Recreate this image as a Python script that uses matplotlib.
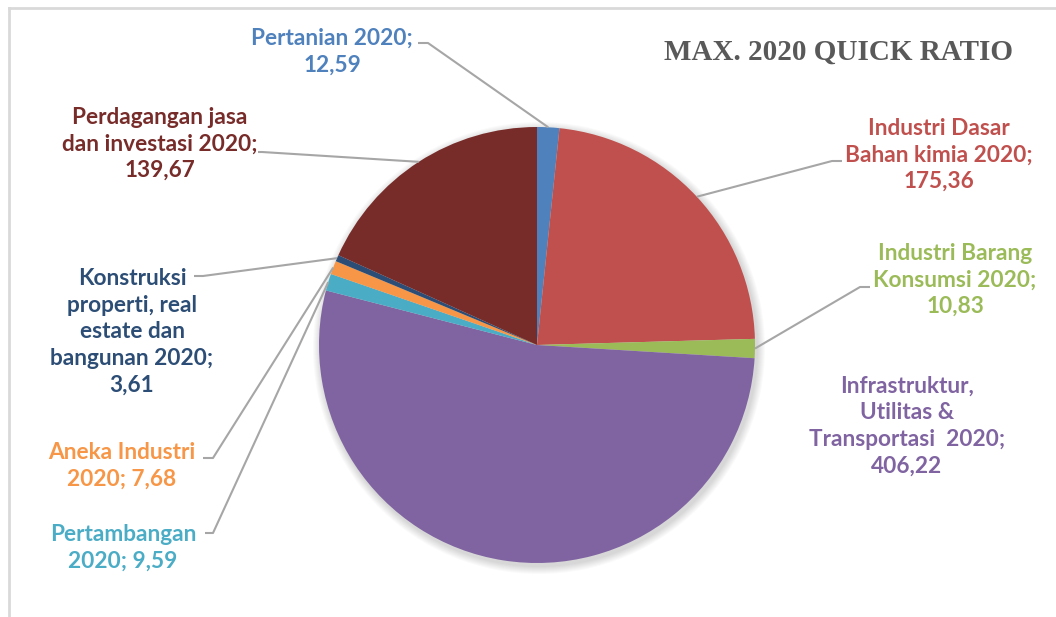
import numpy as np
import matplotlib.pyplot as plt
from matplotlib.patches import Circle

# Data sektor (nilai quick ratio maksimum 2020)
sektor = [
    "Pertanian 2020;\n12,59",
    "Industri Dasar\nBahan kimia 2020;\n175,36",
    "Industri Barang\nKonsumsi 2020;\n10,83",
    "Infrastruktur,\nUtilitas &\nTransportasi  2020;\n406,22",
    "Pertambangan\n2020; 9,59",
    "Aneka Industri\n2020; 7,68",
    "Konstruksi\nproperti, real\nestate dan\nbangunan 2020;\n3,61",
    "Perdagangan jasa\ndan investasi 2020;\n139,67",
]
nilai = [12.59, 175.36, 10.83, 406.22, 9.59, 7.68, 3.61, 139.67]
warna = ["#4F81BD", "#C0504D", "#9BBB59", "#8064A2",
         "#4BACC6", "#F79646", "#2C4D75", "#772C2A"]
warna_teks = ["#4F81BD", "#C0504D", "#9BBB59", "#8064A2",
              "#4BACC6", "#F79646", "#2C4D75", "#772C2A"]

W, H = 1056, 617

# posisi label (piksel, dari kiri-atas) dan titik siku garis penunjuk
pos_label = [(332, 52), (939, 155), (955, 280), (907, 426),
             (123, 548), (122, 466), (132, 332), (160, 144)]
siku = [[(428, 43), (418, 43)],
        [(832, 161), (842, 161)],
        [(860, 287), (870, 287)],
        None,
        [(213, 533), (205, 533)],
        [(213, 458), (203, 458)],
        [(203, 276), (194, 276)],
        [(262, 152), (258, 152)]]

fig = plt.figure(figsize=(W / 100, H / 100), dpi=100)
ax = fig.add_axes([0, 0, 1, 1])

cx, cy, r = 537, H - 345, 218

# bayangan lembut di sekitar pie
for k in range(8):
    ax.add_patch(Circle((cx + 2, cy - 3), r + 1 + k, color="black",
                        alpha=0.018, lw=0, zorder=0))

wedges, _ = ax.pie(nilai, colors=warna, startangle=90, counterclock=False,
                   center=(cx, cy), radius=r,
                   wedgeprops=dict(linewidth=0, zorder=2))

fs = 16.3
for i, w in enumerate(wedges):
    lx, ly = pos_label[i]
    ax.text(lx, H - ly, sektor[i], ha="center", va="center",
            fontsize=fs, fontweight="bold", color=warna_teks[i],
            family="Lato", linespacing=1.33, zorder=5)
    if siku[i] is None:
        continue
    ang = np.deg2rad((w.theta1 + w.theta2) / 2)
    ex, ey = cx + r * np.cos(ang), cy + r * np.sin(ang)
    xs = [ex] + [p[0] for p in siku[i]]
    ys = [ey] + [H - p[1] for p in siku[i]]
    ax.plot(xs, ys, color="#A6A6A6", lw=1.5, zorder=3,
            solid_capstyle="butt")

ax.text(838, H - 52, "MAX. 2020 QUICK RATIO", ha="center", va="center",
        fontsize=21, fontweight="bold", color="#595959",
        family="Liberation Serif")

# bingkai area grafik
ax.plot([9, W], [H - 8, H - 8], color="#D9D9D9", lw=2, zorder=1)
ax.plot([9, 9], [H - 8, 0], color="#D9D9D9", lw=2, zorder=1)

ax.set_xlim(0, W)
ax.set_ylim(0, H)
ax.set_aspect("auto")
ax.axis("off")

fig.savefig("out.png", dpi=100)
